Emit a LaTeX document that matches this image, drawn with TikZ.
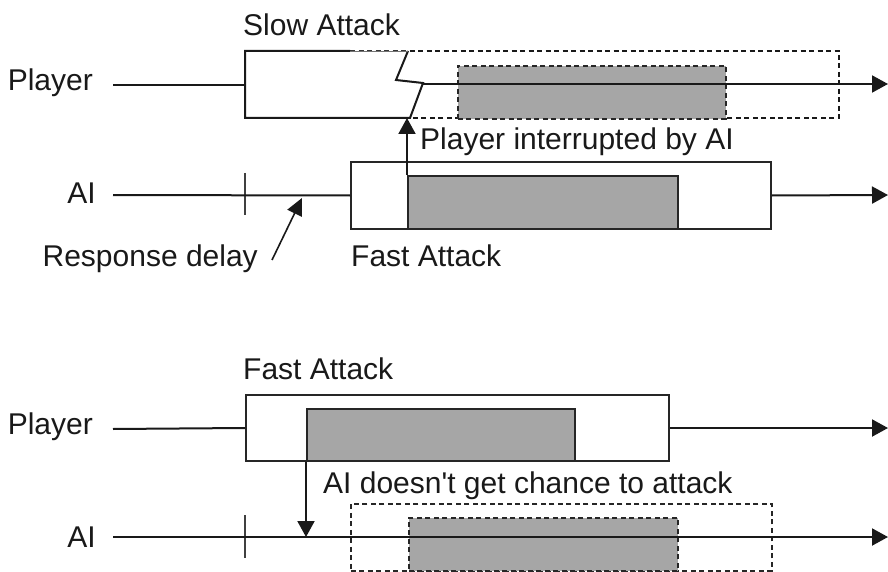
\documentclass[tikz,border=0pt]{standalone}
\usepackage{fontspec}
\setmainfont{Liberation Sans}
\usetikzlibrary{arrows.meta}
\begin{document}
\begin{tikzpicture}[x=1pt,y=-1pt,
  lbl/.style={font=\fontsize{30}{35}\selectfont, inner sep=0pt, text=black!90},
  ln/.style={line width=2pt, draw=black!90},
  arr/.style={ln, -{Triangle[length=16pt,width=17pt]}},
  tick/.style={line width=1.4pt, draw=black!75},
  box/.style={draw=black!85, line width=2pt, fill=white, anchor=north west,
              inner sep=0pt, minimum width=#1},
  active/.style={box=#1, fill=black!35},
  dashpat/.style={dash pattern=on 5pt off 3.5pt, line width=1.8pt},
]
\useasboundingbox (0,0) rectangle (888,572);

% ---------- scenario 1: slow player attack interrupted by the AI ----------
\node[lbl, anchor=base west] (slowlbl) at (243,36) {Slow Attack};
\node[lbl, anchor=base east] (p1lbl) at (93,91) {Player};
\coordinate (p1start) at (113,85);
\coordinate (slowL) at (245,85);

% planned (cancelled) remainder of the slow attack
\draw[ln, dashpat] (350,51) -- (839,51) -- (839,118) -- (410,118);
\node[active=268pt, minimum height=53pt, dashpat] (slowActive) at (457,65) {};

% executed part of the slow attack, broken off by the zigzag
\fill[white] (245,51) -- (408,51) -- (396,80) -- (423,83) -- (410,118) -- (245,118) -- cycle;
\draw[ln] (350,51) -- (245,51) -- (245,118) -- (410,118) -- (423,83) -- (396,80) -- (408,51);
\draw[line width=0.7pt, black!55] (350,51) -- (408,51);
\coordinate (breakR) at (423,84);
\coordinate (p1end) at (888,84);
\draw[ln] (p1start) -- (slowL);
\draw[arr] (breakR) -- (p1end);

% AI response
\node[lbl, anchor=base east] (ai1lbl) at (96,204) {AI};
\coordinate (ai1start) at (113,195);
\draw[tick] (245,173) -- (245,215);
\node[box=420pt, minimum height=67pt] (aiFast) at (350,161) {};
\node[active=270pt, minimum height=53pt] (aiFastActive) at (407,175) {};
\draw[ln] (ai1start) -- (aiFast.west);
\coordinate (ai1end) at (888,195);
\draw[arr] (aiFast.east) -- (ai1end);

\coordinate (hit) at (407,118);
\draw[arr] (aiFastActive.north west) -- (hit);
\node[lbl, anchor=base west] (interrupt) at (420,150) {Player interrupted by AI};

\node[lbl, anchor=base east] (delay) at (258,266) {Response delay};
\coordinate (delayTail) at (272,260);
\coordinate (delayTip) at (302,198);
\draw[ln, line width=1.6pt, -{Triangle[length=17pt,width=16pt]}] (delayTail) -- (delayTip);
\node[lbl, anchor=base west] (fastlbl1) at (351,266) {Fast Attack};

% ---------- scenario 2: fast player attack, AI never gets to attack ----------
\node[lbl, anchor=base west] (fastlbl2) at (243,379) {Fast Attack};
\node[lbl, anchor=base east] (p2lbl) at (93,434) {Player};
\coordinate (p2start) at (113,429);
\node[box=423pt, minimum height=66pt] (pFast) at (245,394) {};
\node[active=268pt, minimum height=52pt] (pFastActive) at (306,408) {};
\draw[ln] (p2start) -- (pFast.west);
\coordinate (p2end) at (888,428);
\draw[arr] (pFast.east) -- (p2end);

\node[lbl, anchor=base west] (noChance) at (323,493) {AI doesn\textquotesingle t get chance to attack};

\node[lbl, anchor=base east] (ai2lbl) at (96,547) {AI};
\draw[tick] (245,515) -- (245,558);
\node[box=421pt, minimum height=67pt, dashpat] (aiMissed) at (350,503) {};
\node[active=269pt, minimum height=53pt, dashpat] (aiMissedActive) at (408,517) {};
\coordinate (ai2start) at (113,537);
\coordinate (ai2end) at (888,537);
\draw[arr] (ai2start) -- (ai2end);
\coordinate (ai2hit) at (306,537);
\draw[arr] (pFastActive.south west) -- (ai2hit);
\end{tikzpicture}
\end{document}
